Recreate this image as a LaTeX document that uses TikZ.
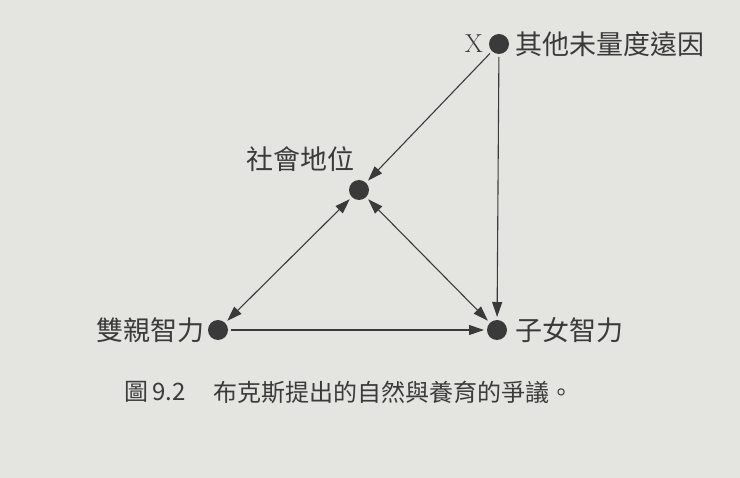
\documentclass[tikz,border=0pt]{standalone}
\usepackage{fontspec}
\newfontfamily\cjk{Noto Sans CJK TC}
\usetikzlibrary{arrows.meta}
\definecolor{paper}{HTML}{E4E4E1}
\definecolor{ink}{HTML}{3A3A3A}
\begin{document}
\begin{tikzpicture}[x=1pt,y=-1pt,
  dot/.style={circle,fill=ink,minimum size=20pt,inner sep=0pt,outer sep=3pt},
  lab/.style={font=\cjk\fontsize{27}{27}\selectfont,text=ink,inner sep=0pt},
  conn/.style={draw=ink,line width=1.1pt,-{Triangle[length=15pt,width=10pt]}},
  bconn/.style={draw=ink,line width=1.1pt,{Triangle[length=15pt,width=10pt]}-{Triangle[length=15pt,width=10pt]}}]
\fill[paper] (0,0) rectangle (740,478);
\useasboundingbox (0,0) rectangle (740,478);
\node[dot] (x) at (499,44) {};
\node[dot] (s) at (359,190) {};
\node[dot] (p) at (218,330) {};
\node[dot] (c) at (497,330) {};
\node[lab,font=\rmfamily\fontsize{26}{26}\selectfont] (xl) at (474,44) {X};
\node[lab,anchor=west] (xt) at (515,44) {其他未量度遠因};
\node[lab] (st) at (300,159) {社會地位};
\node[lab,anchor=east] (pt) at (205,330) {雙親智力};
\node[lab,anchor=west] (ct) at (515,330) {子女智力};
\node[lab,anchor=west,font=\cjk\fontsize{24}{24}\selectfont] (capn) at (124,392) {圖\,9.2};
\node[lab,anchor=west,font=\cjk\fontsize{24}{24}\selectfont] (cap) at (213,392) {布克斯提出的自然與養育的爭議。};
\draw[conn] (x) -- (s);
\draw[conn] (x) -- (c);
\draw[bconn] (s) -- (p);
\draw[bconn] (s) -- (c);
\draw[conn] (p) -- (c);
\end{tikzpicture}
\end{document}
